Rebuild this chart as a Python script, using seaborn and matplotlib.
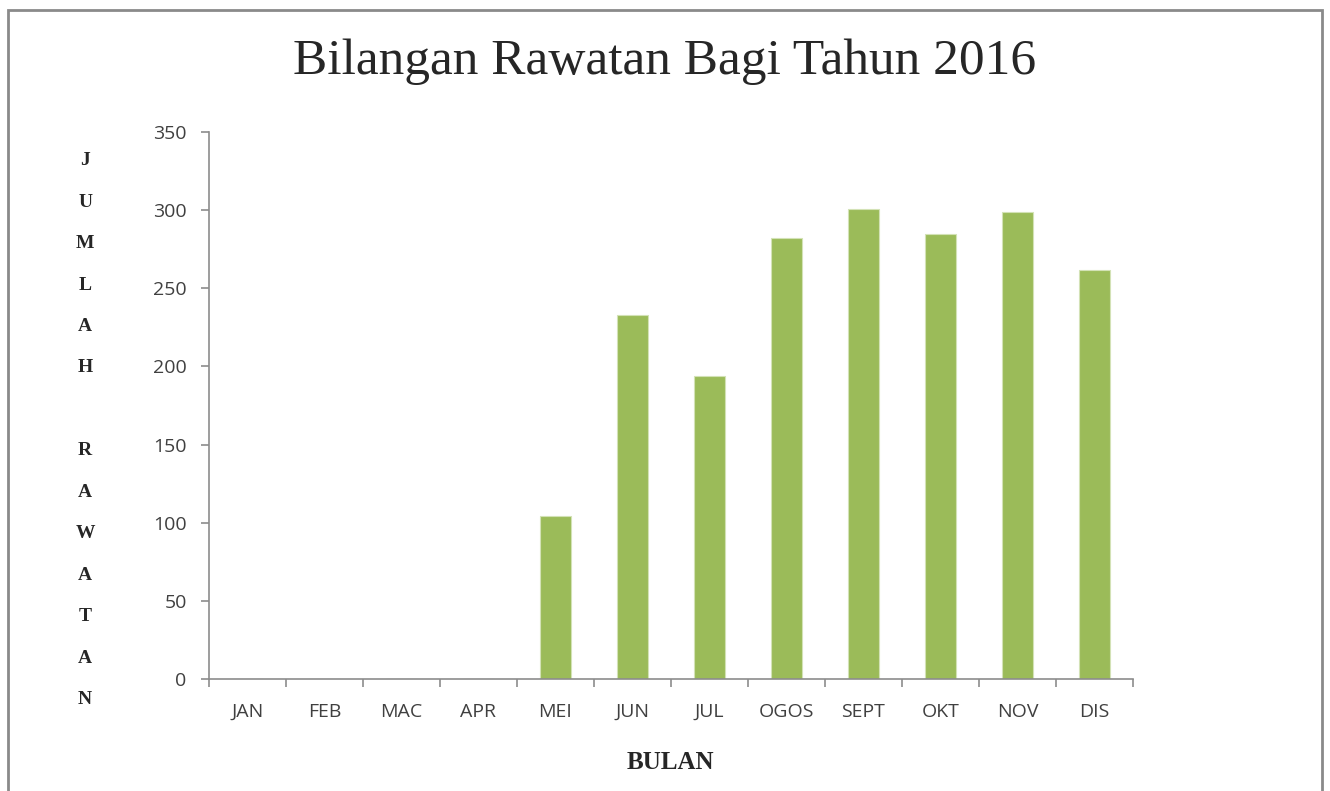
import numpy as np
import seaborn as sns
import matplotlib
matplotlib.use('Agg')
import matplotlib.pyplot as plt
from matplotlib.patches import Rectangle

bulan = ['JAN', 'FEB', 'MAC', 'APR', 'MEI', 'JUN', 'JUL', 'OGOS', 'SEPT', 'OKT', 'NOV', 'DIS']
rawatan = [0, 0, 0, 0, 104, 233, 194, 282, 301, 285, 299, 262]
yticks = [0, 50, 100, 150, 200, 250, 300, 350]
ylabel_text = 'JUMLAH RAWATAN'

sns.set_style('white')
plt.rcParams['font.family'] = ['Open Sans', 'DejaVu Sans']

fig = plt.figure(figsize=(13.3, 7.91), dpi=100)
ax = fig.add_axes([0.1571, 0.1416, 0.6947, 0.6915])

sns.barplot(x=bulan, y=rawatan, color='#9bbb59', saturation=1, width=0.4,
            edgecolor='#d3e2b6', linewidth=0.8, ax=ax)

axis_grey = '#8c8c8c'
ax.set_ylim(0, 350)
ax.set_yticks(yticks)
ax.set_xlim(-0.5, len(bulan) - 0.5)
for side in ['top', 'right']:
    ax.spines[side].set_visible(False)
for side in ['left', 'bottom']:
    ax.spines[side].set_color(axis_grey)
    ax.spines[side].set_linewidth(1.2)

ax.tick_params(axis='y', direction='out', length=6, width=1.2, color=axis_grey,
               labelsize=14, labelcolor='#404040', pad=10, left=True)
ax.tick_params(axis='x', which='major', length=0, labelsize=14, labelcolor='#404040', pad=17)
ax.set_xticks(np.arange(-0.5, len(bulan)), minor=True)
ax.tick_params(axis='x', which='minor', direction='out', length=6, width=1.2,
               color=axis_grey, bottom=True)

ax.set_xlabel('BULAN', family='Liberation Serif', fontweight='bold', fontsize=18, labelpad=22)
ax.set_ylabel('\n'.join(ylabel_text), rotation=0,
              family='Liberation Serif', fontweight='bold', fontsize=14,
              linespacing=2.88, va='center', ha='center')
ax.yaxis.set_label_coords(-0.134, 0.455)

fig.text(0.5, 0.922, 'Bilangan Rawatan Bagi Tahun 2016', ha='center', va='center',
         family='Liberation Serif', fontsize=37)

fig.patches.append(Rectangle((8 / 1330, -0.05), 1314 / 1330, 1.05 - 10 / 791,
                             transform=fig.transFigure, fill=False,
                             edgecolor='#8a8a8a', linewidth=2))

fig.savefig('out.png', dpi=100)
